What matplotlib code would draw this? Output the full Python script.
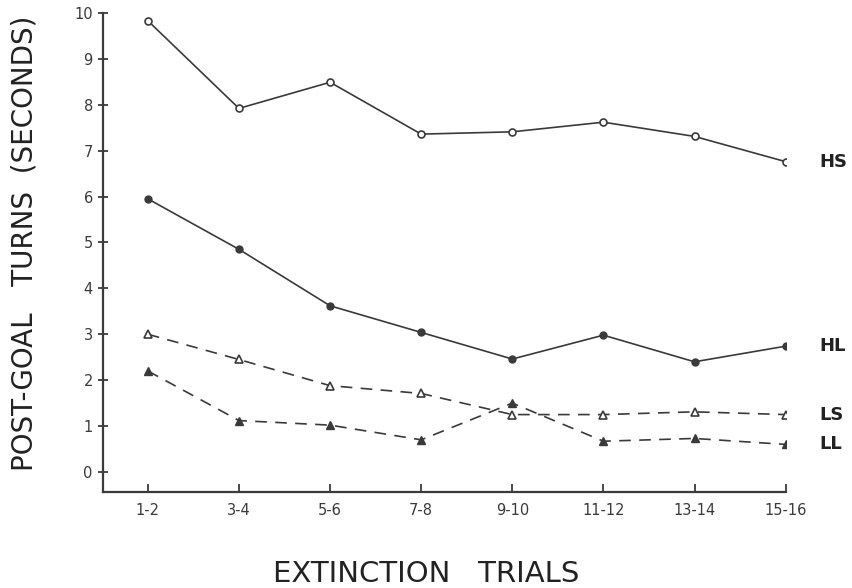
import matplotlib
matplotlib.use("Agg")
import matplotlib.pyplot as plt
import numpy as np

trials = ["1-2", "3-4", "5-6", "7-8", "9-10", "11-12", "13-14", "15-16"]
hs = [9.83, 7.92, 8.49, 7.36, 7.41, 7.62, 7.31, 6.76]
hl = [5.95, 4.85, 3.62, 3.04, 2.46, 2.98, 2.40, 2.74]
ls = [3.00, 2.45, 1.88, 1.71, 1.25, 1.25, 1.31, 1.25]
ll = [2.20, 1.12, 1.02, 0.70, 1.50, 0.67, 0.73, 0.60]

ink = "#3a3a3a"
fig = plt.figure(figsize=(8.53, 5.88), dpi=100)
ax = fig.add_axes([0.121, 0.163, 0.800, 0.815])
x = np.arange(len(trials))

ax.plot(x, hs, "-", color=ink, lw=1.2, marker="o", ms=5, mfc="white", mec=ink, mew=1.2)
ax.plot(x, hl, "-", color=ink, lw=1.2, marker="o", ms=5, mfc=ink, mec=ink)
ax.plot(x, ls, "--", color=ink, lw=1.2, dashes=(7, 5), marker="^", ms=5.5, mfc="white", mec=ink, mew=1.2)
ax.plot(x, ll, "--", color=ink, lw=1.2, dashes=(7, 5), marker="^", ms=5.5, mfc=ink, mec=ink)

for vals, name in [(hs, "HS"), (hl, "HL"), (ls, "LS"), (ll, "LL")]:
    ax.annotate(name, (x[-1], vals[-1]), xytext=(24, 0), textcoords="offset points",
                va="center", ha="left", fontsize=13, fontweight="bold", color="#222222")

ax.set_xlim(-0.49, 7)
ax.set_ylim(-0.44, 10)
ax.set_xticks(x)
ax.set_xticklabels(trials)
ax.set_yticks(range(0, 11))
for s in ["top", "right"]:
    ax.spines[s].set_visible(False)
for s in ["left", "bottom"]:
    ax.spines[s].set_color(ink)
    ax.spines[s].set_linewidth(1.6)
ax.tick_params(axis="y", direction="inout", length=7, width=1.3, colors=ink, labelsize=10.5, pad=4)
ax.tick_params(axis="x", direction="in", length=6, width=1.3, colors=ink, labelsize=10.5, pad=8)

fig.text(0.029, 0.587, "POST-GOAL   TURNS  (SECONDS)", rotation=90, ha="center", va="center",
         fontsize=20, color="#222222")
fig.text(0.5, 0.024, "EXTINCTION   TRIALS", ha="center", va="center", fontsize=21, color="#222222")

fig.savefig("out.png", dpi=100)
